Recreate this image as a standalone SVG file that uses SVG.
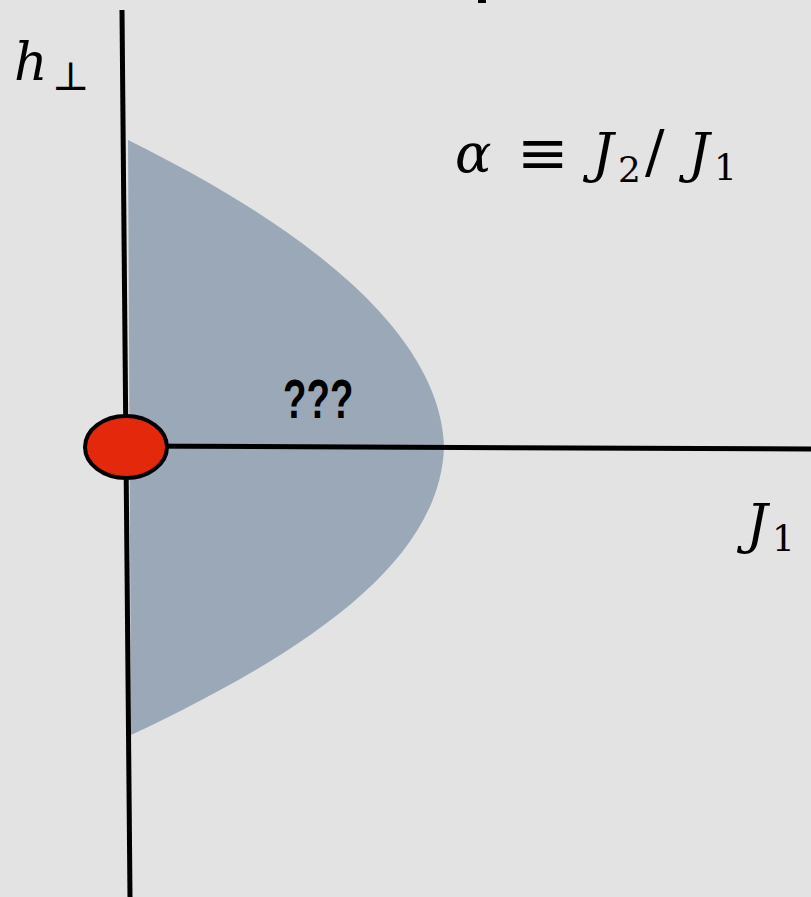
<svg xmlns="http://www.w3.org/2000/svg" width="811" height="897" viewBox="0 0 811 897">
<style>
.m{font-family:'DejaVu Serif','Liberation Serif',serif;fill:#000}
.i{font-style:italic}
.ax{stroke:#000;stroke-width:5;fill:none}
</style>
<rect width="811" height="897" fill="#e3e3e3"/>
<g id="region">
<path d="M128,140 C300,225 440,330 444,447 C440,565 300,655 131,735 Z" fill="#9aa8b8"/>
</g>
<g id="axes">
<line class="ax" x1="122" y1="10" x2="130" y2="897"/>
<line class="ax" x1="126" y1="446" x2="811" y2="449"/>
</g>
<g id="origin">
<ellipse cx="126" cy="447" rx="41" ry="31" fill="#e4280c" stroke="#000" stroke-width="4"/>
</g>
<rect x="478" y="0" width="8" height="3" fill="#000"/>
<g id="labels">
<text class="m i" x="14" y="80" font-size="52">h</text>
<text class="m" x="52" y="90" font-size="40">⊥</text>
<text class="m i" x="455" y="172" font-size="54">α</text>
<text class="m" x="517" y="174" font-size="62">≡</text>
<text class="m i" x="592" y="172" font-size="54">J</text>
<text class="m" x="618" y="182" font-size="36">2</text>
<text class="m" x="645" y="172" font-size="58">/</text>
<text class="m i" x="688" y="172" font-size="54">J</text>
<text class="m" x="714" y="180" font-size="36">1</text>
<text class="m i" x="746" y="543" font-size="54">J</text>
<text class="m" x="772" y="551" font-size="36">1</text>
<text x="0" y="0" transform="translate(283,418) scale(0.8,1.15)" font-family="'Liberation Sans','DejaVu Sans',sans-serif" font-weight="bold" font-size="48">???</text>
</g>
</svg>
